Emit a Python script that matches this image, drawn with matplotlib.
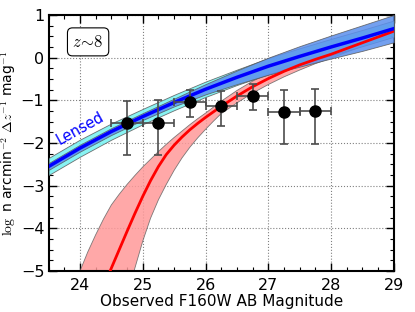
import numpy as np
import matplotlib
matplotlib.use("Agg")
import matplotlib.pyplot as plt
from matplotlib.ticker import MultipleLocator

# Data points
mag_pts = [24.75, 25.25, 25.75, 26.25, 26.75, 27.25, 27.75]
logn_pts = [-1.53, -1.53, -1.05, -1.14, -0.90, -1.28, -1.25]
err_lo = [0.76, 0.75, 0.35, 0.45, 0.33, 0.75, 0.77]
err_hi = [0.51, 0.53, 0.29, 0.36, 0.29, 0.52, 0.52]
mag_err = [0.25, 0.25, 0.25, 0.25, 0.25, 0.25, 0.25]

# Lensed model (blue)
mag_blue = [23.5, 24.0, 24.5, 25.0, 25.5, 26.0, 26.5, 27.0, 27.5, 28.0, 28.5, 29.0]
blue_mid = [-2.55, -2.12, -1.73, -1.38, -1.05, -0.74, -0.46, -0.20, 0.03, 0.25, 0.46, 0.68]
blue_hw = [0.08, 0.08, 0.08, 0.08, 0.09, 0.12, 0.16, 0.20, 0.24, 0.27, 0.30, 0.32]
cyan_hw = [0.20, 0.20, 0.19, 0.18, 0.18, 0.18, 0.18, 0.19, 0.19, 0.19, 0.19, 0.19]

# Unlensed model (red)
mag_red = [24.0, 24.125, 24.25, 24.375, 24.5, 24.625, 24.75, 24.875, 25.0, 25.125,
           25.25, 25.375, 25.5, 25.625, 25.75, 25.875, 26.0, 26.125, 26.25,
           26.5, 26.75, 27.0, 27.25, 27.5, 27.75, 28.0, 28.5, 29.0]
red_mid = [-6.6, -6.2, -5.8, -5.37, -4.93, -4.5, -4.07, -3.65, -3.25, -2.88,
           -2.55, -2.27, -2.05, -1.86, -1.69, -1.54, -1.40, -1.27, -1.14,
           -0.90, -0.68, -0.49, -0.32, -0.17, -0.04, 0.08, 0.35, 0.62]
red_up = [-5.0, -4.55, -4.15, -3.78, -3.45, -3.2, -2.97, -2.76, -2.56, -2.38,
          -2.2, -2.03, -1.87, -1.72, -1.57, -1.43, -1.30, -1.16, -1.02,
          -0.77, -0.55, -0.37, -0.21, -0.07, 0.05, 0.17, 0.43, 0.69]
red_lo = [-9.5, -9.0, -8.3, -7.6, -6.9, -6.25, -5.6, -4.93, -4.3, -3.76,
          -3.33, -2.97, -2.64, -2.35, -2.10, -1.88, -1.68, -1.49, -1.31,
          -1.06, -0.83, -0.63, -0.45, -0.29, -0.14, -0.01, 0.27, 0.55]

plt.rcParams['font.family'] = ['DejaVu Sans']
plt.rcParams['mathtext.fontset'] = 'cm'

fig = plt.figure(figsize=(4.15, 3.12), dpi=100)
ax = fig.add_axes([0.117, 0.131, 0.832, 0.821])

mb = np.array(mag_blue)
bm = np.array(blue_mid)
bh = np.array(blue_hw)
ch = np.array(cyan_hw)

ax.fill_between(mag_red, red_lo, red_up, facecolor=(1.0, 0.6, 0.6), alpha=0.85,
                edgecolor='0.4', lw=0.6, zorder=2)
ax.fill_between(mb, bm - ch, bm + ch, facecolor=(0.45, 0.95, 0.95), alpha=0.85,
                edgecolor='0.35', lw=0.6, zorder=3)
ax.fill_between(mb, bm - bh, bm + bh, facecolor=(0.36, 0.56, 0.93), alpha=0.85,
                edgecolor='0.35', lw=0.6, zorder=4)
ax.plot(mag_red, red_mid, color='red', lw=2, zorder=5)
ax.plot(mb, bm, color='blue', lw=2.5, zorder=6)

ax.errorbar(mag_pts, logn_pts, xerr=mag_err, yerr=[err_lo, err_hi], fmt='o',
            color='black', ecolor='0.3', elinewidth=1.2, capsize=3, capthick=1.2,
            markersize=8, zorder=10)

ax.text(24.0, -1.65, 'Lensed', color='blue', fontsize=10.5, rotation=29,
        ha='center', va='center', zorder=11)
ax.text(24.13, 0.37, r'$z\!\sim\!8$', fontsize=12, ha='center', va='center',
        bbox=dict(boxstyle='round,pad=0.3', facecolor='white', edgecolor='black', lw=0.8),
        zorder=11)

ax.set_xlim(23.5, 29)
ax.set_ylim(-5, 1)
ax.xaxis.set_major_locator(MultipleLocator(1))
ax.xaxis.set_minor_locator(MultipleLocator(0.25))
ax.yaxis.set_major_locator(MultipleLocator(1))
ax.yaxis.set_minor_locator(MultipleLocator(0.25))
ax.tick_params(which='both', direction='in', top=True, right=True)
ax.tick_params(which='major', length=6, width=1, labelsize=11.5)
ax.tick_params(axis='x', which='major', pad=5)
ax.tick_params(axis='y', which='major', pad=3)
ax.tick_params(which='minor', length=3, width=0.8)
ax.grid(True, which='major', ls=':', color='0.5', lw=0.8)
for s in ax.spines.values():
    s.set_linewidth(1.5)

ax.set_xlabel('Observed F160W AB Magnitude', fontsize=11, labelpad=1)
ax.set_ylabel(r'$\log$ n arcmin$^{-2}$ $\Delta z^{-1}$ mag$^{-1}$', fontsize=10)
ax.yaxis.set_label_coords(-0.088, 0.5)

fig.savefig('out.png', dpi=100)
